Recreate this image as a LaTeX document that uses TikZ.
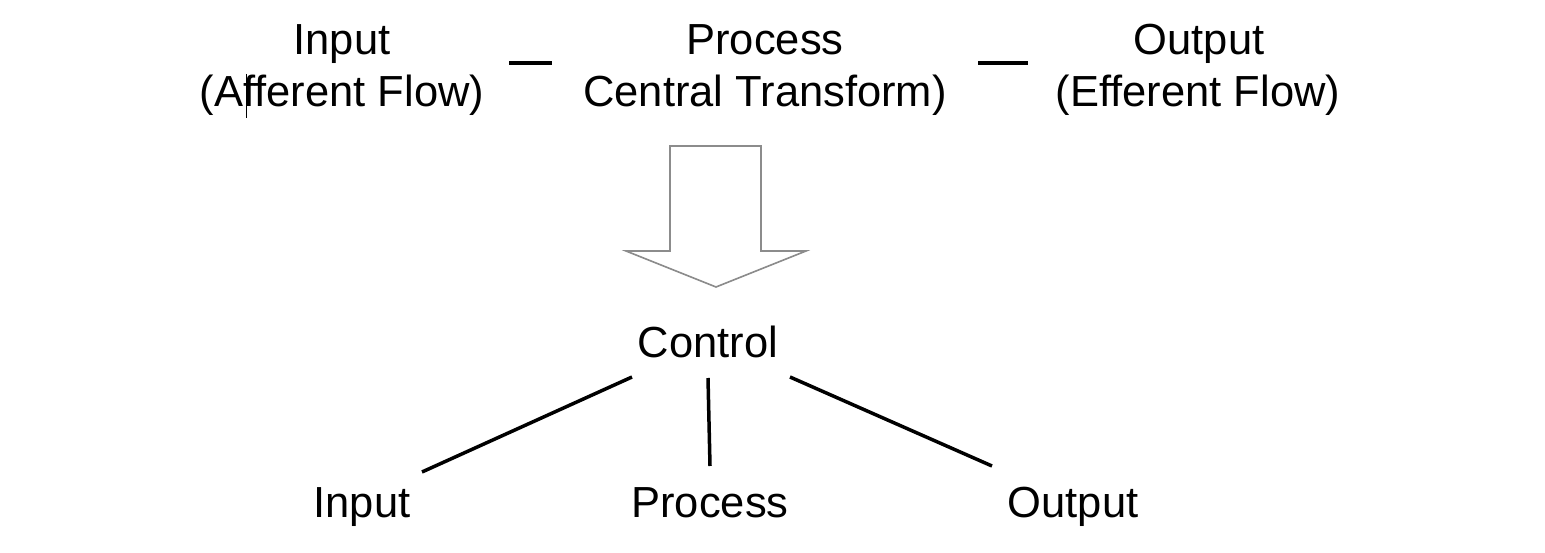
\documentclass[tikz,border=0pt]{standalone}
\usepackage{fontspec}
\setmainfont{Liberation Sans}
\begin{document}
\begin{tikzpicture}[x=1pt,y=-1pt,
  lbl/.style={font=\fontsize{43.5}{52}\selectfont, inner sep=0pt, anchor=base, align=center},
  conn/.style={line width=3.5pt, black},
  dashmark/.style={line width=4pt, black},
  bigarrow/.style={draw=black!45, line width=1.6pt, fill=white, line join=miter}]
\useasboundingbox (0,0) rectangle (1545,553);
% top row
\node[lbl] (tIn)   at (342,55) {Input};
\node[lbl] (tInB)  at (342,107) {(Afferent Flow)};
\node[lbl] (tProc) at (765,55) {Process};
\node[lbl] (tProcB) at (765,107) {Central Transform)};
\node[lbl] (tOut)  at (1199,55) {Output};
\node[lbl] (tOutB) at (1198,107) {(Efferent Flow)};
% cursor mark
\draw[black, line width=0.8pt] (246,74) -- (246,118);
% dashes
\coordinate (d1a) at (509,63); \coordinate (d1b) at (552,63);
\coordinate (d2a) at (978,63); \coordinate (d2b) at (1028,63);
\draw[dashmark] (d1a) -- (d1b);
\draw[dashmark] (d2a) -- (d2b);
% big arrow
\draw[bigarrow] (670,146) -- (761,146) -- (761,251) -- (806,251) -- (716,287) -- (626,251) -- (670,251) -- cycle;
% bottom tree
\node[lbl] (ctrl) at (708,358) {Control};
\node[lbl] (bIn)   at (362,517) {Input};
\node[lbl] (bProc) at (710,517) {Process};
\node[lbl] (bOut)  at (1073,517) {Output};
\coordinate (c1) at (632,377); \coordinate (e1) at (422,472);
\coordinate (c2) at (708,378); \coordinate (e2) at (710,466);
\coordinate (c3) at (790,377); \coordinate (e3) at (992,466);
\draw[conn] (c1) -- (e1);
\draw[conn] (c2) -- (e2);
\draw[conn] (c3) -- (e3);
\end{tikzpicture}
\end{document}
